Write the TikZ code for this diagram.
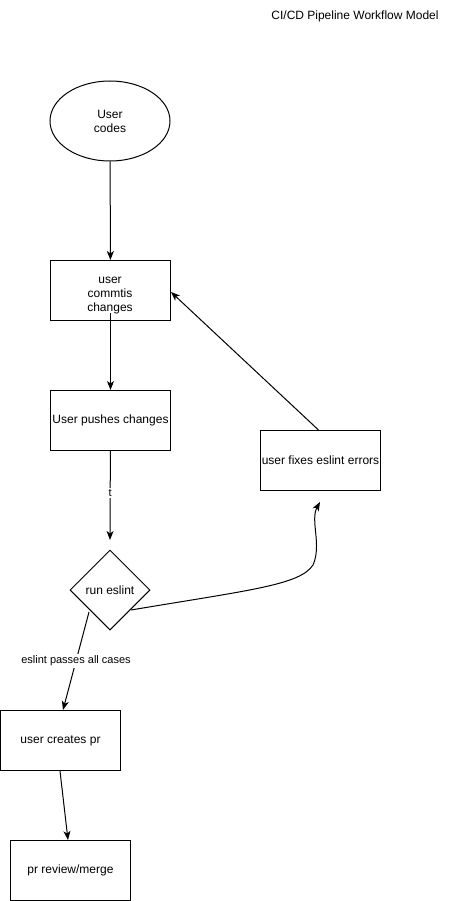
\documentclass[tikz,border=0pt]{standalone}
\usepackage{fontspec}
\setmainfont{Liberation Sans}
\usetikzlibrary{shapes.geometric,arrows.meta}
\begin{document}
\begin{tikzpicture}[x=1pt,y=-1pt,
  every node/.style={font=\fontsize{12}{14}\selectfont},
  box/.style={draw,line width=1pt,minimum width=120pt,minimum height=60pt,inner sep=0pt,align=center,anchor=north west},
  conn/.style={line width=1pt,-{Stealth[length=9pt,width=7pt,inset=2.5pt]}},
  lbl/.style={fill=white,text=black,inner sep=1.5pt,font=\fontsize{11}{13}\selectfont}]
\useasboundingbox (0,0) rectangle (471,901);
\node (title) at (355,16) {CI/CD Pipeline Workflow Model};
\node[ellipse,draw,line width=1pt,minimum width=120pt,minimum height=80pt,inner sep=0pt,align=center] (code) at (110,121) {User\\codes};
\node[box] (commit) at (50,260) {};
\node[align=center] (committxt) at (110,296) {user\\commtis\\changes};
\node[box] (push) at (50,390) {User pushes changes};
\node[box] (fix) at (260,430) {user fixes eslint errors};
\node[diamond,draw,line width=1pt,minimum width=80pt,minimum height=80pt,inner sep=0pt,aspect=1] (lint) at (110,590) {run eslint};
\node[box] (pr) at (0,710) {user creates pr};
\node[box] (merge) at (10,840) {pr review/merge};
\coordinate (lintin) at (110,540);
\coordinate (fixin) at (320,502);
\draw[conn] (code) -- (commit);
\draw[conn] ([yshift=8pt]commit.south) -- (push);
\draw[conn] (push) -- node[lbl,pos=0.47] {t} (lintin);
\draw[conn] ([xshift=-2pt]fix.north) -- (commit.east |- 0,292);
\draw[conn] (131,610) .. controls (250,590) and (300,585) .. (313,565) .. controls (322,545) and (310,520) .. (fixin);
\draw[conn] (89,612) -- node[lbl,pos=0.5] {eslint passes all cases} (pr.north -| 63,0);
\draw[conn] (pr.south -| 60,0) -- (merge.north -| 68,0);
\end{tikzpicture}
\end{document}
